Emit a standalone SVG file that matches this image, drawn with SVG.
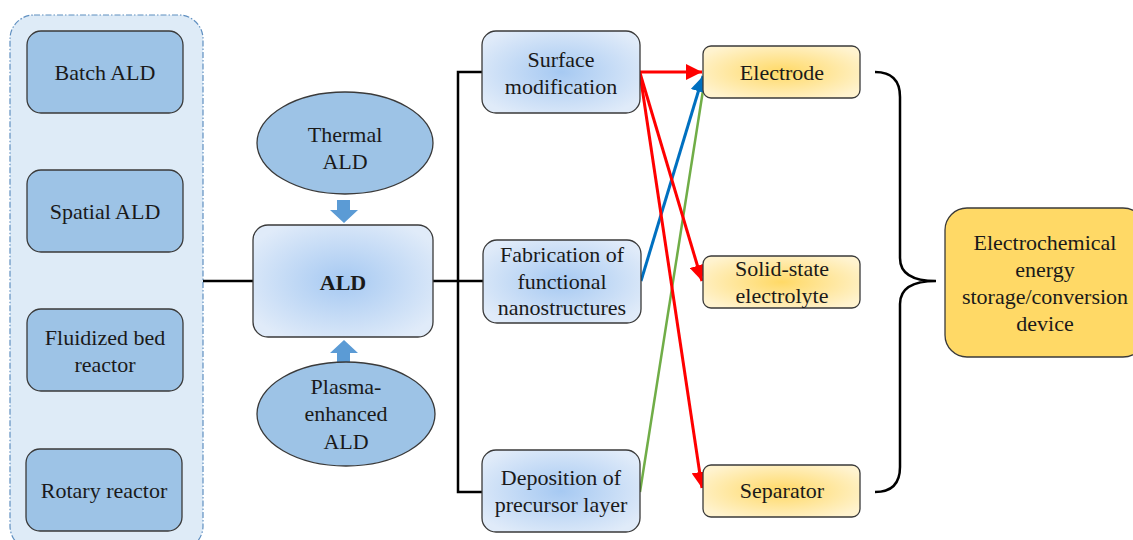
<svg xmlns="http://www.w3.org/2000/svg" width="1133" height="540" viewBox="0 0 1133 540" font-family="'Liberation Serif', 'Times New Roman', 'DejaVu Serif', serif">
<defs>
<radialGradient id="gBlue" cx="50%" cy="50%" r="60%">
<stop offset="0" stop-color="#a6c9f2"/>
<stop offset="1" stop-color="#e0ebf9"/>
</radialGradient>
<radialGradient id="gYel" cx="50%" cy="50%" r="60%">
<stop offset="0" stop-color="#ffd966"/>
<stop offset="1" stop-color="#fff3cf"/>
</radialGradient>
<marker id="aRed" markerUnits="userSpaceOnUse" markerWidth="18" markerHeight="16" refX="16" refY="8" orient="auto">
<path d="M0,0 L16,8 L0,16 z" fill="#ff0000"/>
</marker>
<marker id="aBlue" markerUnits="userSpaceOnUse" markerWidth="18" markerHeight="16" refX="16" refY="8" orient="auto">
<path d="M0,0 L16,8 L0,16 z" fill="#0070c0"/>
</marker>
<style>
text{font-family:'Liberation Serif','Times New Roman','DejaVu Serif',serif;font-size:22px;fill:#1a1a1a;text-anchor:middle}
.lb{fill:#9dc3e6;stroke:#3a3a3a;stroke-width:1.3}
.gb{fill:url(#gBlue);stroke:#3a3a3a;stroke-width:1.3}
.yb{fill:url(#gYel);stroke:#3a3a3a;stroke-width:1.3}
.blk{fill:none;stroke:#000;stroke-width:2.5}
.bar{fill:#5b9bd5}
</style>
</defs>
<rect width="1133" height="540" fill="#fff"/>
<g id="container">
<rect x="10" y="15" width="193" height="535" rx="24" fill="#deebf7" stroke="#5f8fc0" stroke-width="1.2" stroke-dasharray="6 2 1.5 2"/>
</g>
<g id="connectors">
<line class="blk" x1="203" y1="281" x2="253" y2="281"/>
<line class="blk" x1="433" y1="281" x2="458" y2="281"/>
<polyline class="blk" points="483,72 458,72 458,492 483,492"/>
<line class="blk" x1="458" y1="281" x2="483" y2="281"/>
<path class="blk" d="M875,72 Q900,72 900,97 L900,258 Q900,281 936,281 Q900,281 900,304 L900,467 Q900,492 875,492"/>
<line x1="640" y1="492" x2="704" y2="84" stroke="#70ad47" stroke-width="2.5"/>
<line x1="641" y1="281" x2="703" y2="76" stroke="#0070c0" stroke-width="3" marker-end="url(#aBlue)"/>
<line x1="640" y1="72" x2="702" y2="72" stroke="#ff0000" stroke-width="3" marker-end="url(#aRed)"/>
<line x1="640" y1="73" x2="702" y2="281" stroke="#ff0000" stroke-width="3" marker-end="url(#aRed)"/>
<line x1="640" y1="74" x2="702" y2="488" stroke="#ff0000" stroke-width="3" marker-end="url(#aRed)"/>
<polygon class="bar" points="337,200 350,200 350,210 358,210 344,223 330,210 337,210"/>
<polygon class="bar" points="344,340 358,353 350,353 350,363 337,363 337,353 330,353"/>
</g>
<g id="batch"><rect class="lb" x="27" y="31" width="156" height="82" rx="14"/><text x="105" y="80">Batch ALD</text></g>
<g id="spatial"><rect class="lb" x="27" y="170" width="156" height="82" rx="14"/><text x="105" y="219">Spatial ALD</text></g>
<g id="fluidized"><rect class="lb" x="27" y="309" width="156" height="82" rx="14"/><text x="105" y="345">Fluidized bed</text><text x="105" y="372">reactor</text></g>
<g id="rotary"><rect class="lb" x="26" y="449" width="156" height="82" rx="14"/><text x="104" y="498">Rotary reactor</text></g>
<g id="thermal"><ellipse class="lb" cx="345" cy="143" rx="88" ry="51"/><text x="345" y="142">Thermal</text><text x="345" y="169">ALD</text></g>
<g id="ald"><rect class="gb" x="253" y="225" width="180" height="112" rx="15"/><text x="343" y="290" font-weight="bold">ALD</text></g>
<g id="plasma"><ellipse class="lb" cx="346" cy="414" rx="89" ry="52"/><text x="346" y="394">Plasma-</text><text x="346" y="421">enhanced</text><text x="346" y="449">ALD</text></g>
<g id="surface"><rect class="gb" x="482" y="31" width="158" height="82" rx="14"/><text x="561" y="67">Surface</text><text x="561" y="94">modification</text></g>
<g id="fabrication"><rect class="gb" x="483" y="240" width="158" height="83" rx="14"/><text x="562" y="262">Fabrication of</text><text x="562" y="289">functional</text><text x="562" y="315">nanostructures</text></g>
<g id="deposition"><rect class="gb" x="482" y="450" width="158" height="82" rx="14"/><text x="561" y="485">Deposition of</text><text x="561" y="512">precursor layer</text></g>
<g id="electrode"><rect class="yb" x="703" y="46" width="157" height="52" rx="8"/><text x="782" y="80">Electrode</text></g>
<g id="solid"><rect class="yb" x="703" y="256" width="157" height="52" rx="8"/><text x="782" y="276">Solid-state</text><text x="782" y="303">electrolyte</text></g>
<g id="separator"><rect class="yb" x="703" y="465" width="157" height="52" rx="8"/><text x="782" y="498">Separator</text></g>
<g id="device"><rect x="945" y="208" width="200" height="149" rx="22" fill="#ffd966" stroke="#3a3a3a" stroke-width="1.3"/><text x="1045" y="250">Electrochemical</text><text x="1045" y="277">energy</text><text x="1045" y="304">storage/conversion</text><text x="1045" y="331">device</text></g>
</svg>
